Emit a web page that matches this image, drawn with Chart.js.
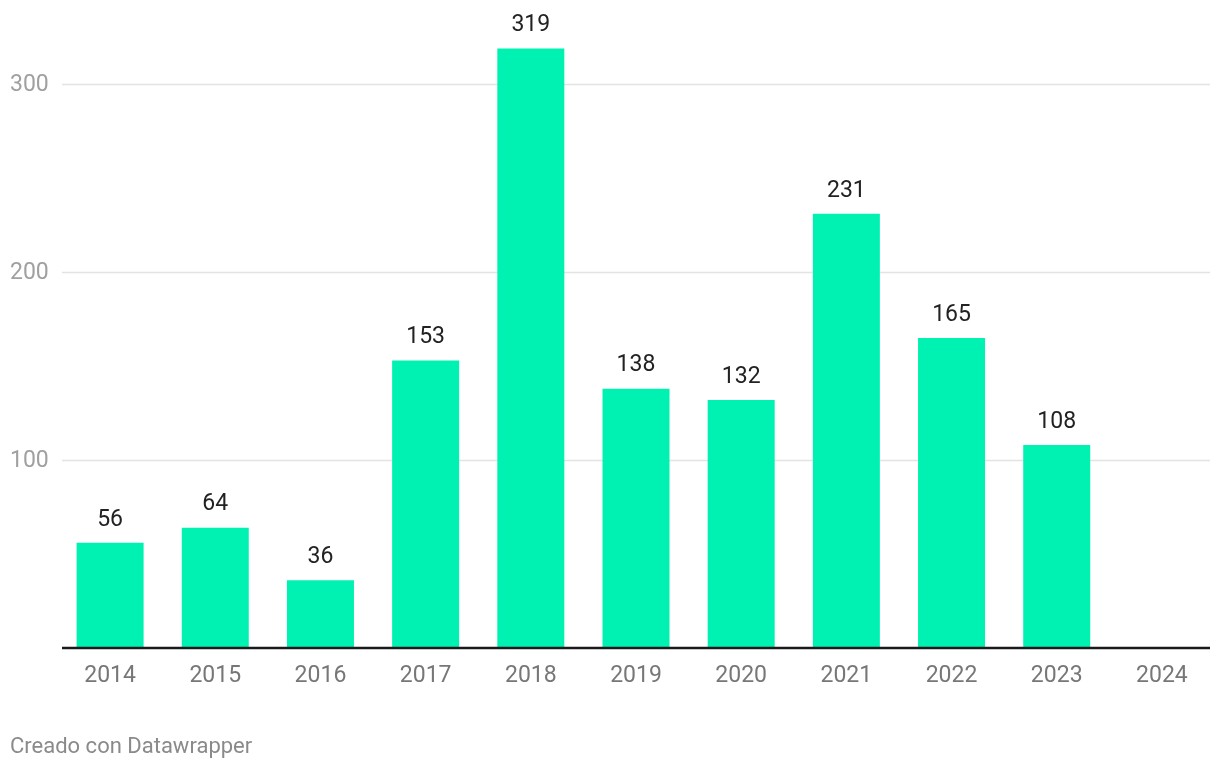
<!DOCTYPE html>
<html>
<head>
<meta charset="utf-8">
<script src="https://cdn.jsdelivr.net/npm/chart.js@4/dist/chart.umd.min.js"></script>
<style>
  html, body { margin: 0; padding: 0; background: #fff; }
  #wrap { position: relative; width: 1220px; height: 770px; }
</style>
</head>
<body>
<div id="wrap"><canvas id="chart" width="1220" height="770"></canvas></div>
<script>
const years = ['2014', '2015', '2016', '2017', '2018', '2019', '2020', '2021', '2022', '2023', '2024'];
const values = [56, 64, 36, 153, 319, 138, 132, 231, 165, 108, null];
const yTicks = [100, 200, 300];
const footer = 'Creado con Datawrapper';

const FONT = 'Roboto, "Noto Sans", sans-serif';

// grid, axis labels, value labels and footer drawn against the chart's own scales
const decor = {
  id: 'decor',
  beforeDatasetsDraw(chart) {
    const { ctx, scales: { y } } = chart;
    const x0 = 62, x1 = 1210;
    ctx.save();
    ctx.strokeStyle = '#e3e3e3';
    ctx.lineWidth = 1.5;
    yTicks.forEach(t => {
      const py = Math.round(y.getPixelForValue(t)) + 0.5;
      ctx.beginPath();
      ctx.moveTo(x0, py);
      ctx.lineTo(x1, py);
      ctx.stroke();
    });
    ctx.fillStyle = '#a0a0a0';
    ctx.font = '23px ' + FONT;
    ctx.textAlign = 'left';
    ctx.textBaseline = 'middle';
    yTicks.forEach(t => {
      ctx.fillText(String(t), 10, y.getPixelForValue(t) + 1);
    });
    ctx.restore();
  },
  afterDatasetsDraw(chart) {
    const { ctx, scales: { x, y } } = chart;
    const meta = chart.getDatasetMeta(0);
    ctx.save();
    // baseline
    ctx.strokeStyle = '#1a1a1a';
    ctx.lineWidth = 2.5;
    const by = y.getPixelForValue(0);
    ctx.beginPath();
    ctx.moveTo(62, by);
    ctx.lineTo(1210, by);
    ctx.stroke();

    // value labels
    ctx.fillStyle = '#222';
    ctx.font = '23px ' + FONT;
    ctx.textAlign = 'center';
    ctx.textBaseline = 'middle';
    meta.data.forEach((bar, i) => {
      if (values[i] == null) return;
      ctx.fillText(String(values[i]), bar.x, bar.y - 23);
    });

    // category labels
    ctx.fillStyle = '#777';
    years.forEach((yr, i) => {
      ctx.fillText(yr, x.getPixelForValue(i), by + 28);
    });

    // footer
    ctx.fillStyle = '#8a8a8a';
    ctx.font = '22px ' + FONT;
    ctx.textAlign = 'left';
    ctx.textBaseline = 'alphabetic';
    ctx.fillText(footer, 10, 753);
    ctx.restore();
  }
};

new Chart(document.getElementById('chart'), {
  type: 'bar',
  data: {
    labels: years,
    datasets: [{
      data: values,
      backgroundColor: '#00f2b2',
      borderWidth: 0,
      barPercentage: 0.637,
      categoryPercentage: 1
    }]
  },
  options: {
    responsive: false,
    animation: false,
    layout: { padding: { left: 57.5, right: 5.5, top: 9, bottom: 122 } },
    scales: {
      x: { display: false, offset: true },
      y: { display: false, min: 0, max: 340 }
    },
    plugins: {
      legend: { display: false },
      tooltip: { enabled: false }
    }
  },
  plugins: [decor]
});
</script>
</body>
</html>
